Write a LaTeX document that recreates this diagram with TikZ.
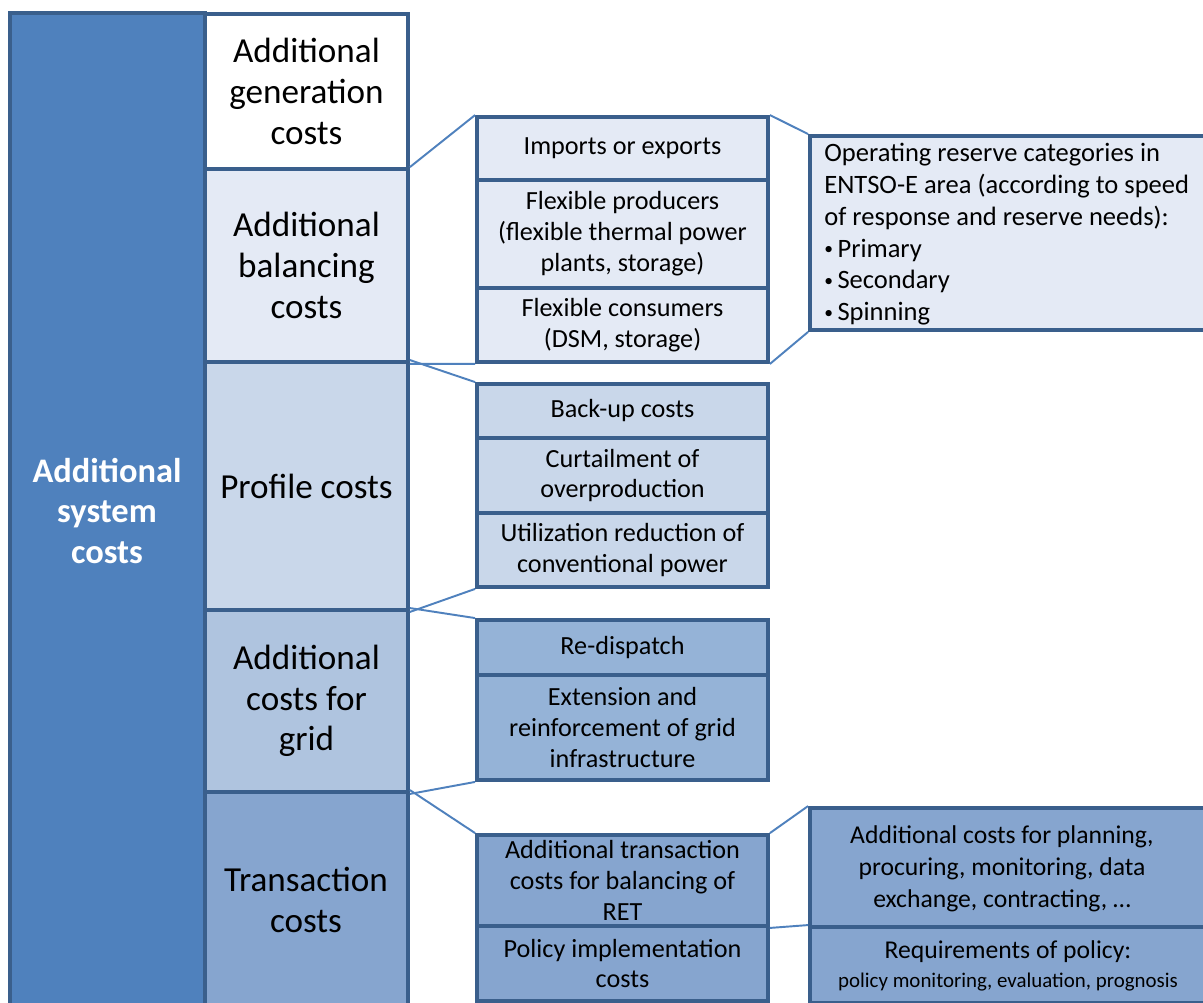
\documentclass[tikz,border=0pt]{standalone}
\usepackage{fontspec}
\setmainfont{Carlito}
\definecolor{bord}{HTML}{3A5F8C}
\definecolor{cmain}{HTML}{4F81BD}
\definecolor{cbal}{HTML}{E4EAF5}
\definecolor{cprof}{HTML}{C9D7EA}
\definecolor{cgrid}{HTML}{AFC4DF}
\definecolor{cgridc}{HTML}{95B3D7}
\definecolor{ctrans}{HTML}{86A5CF}
\tikzset{
  box/.style={draw=bord, line width=2.2pt, inner sep=0pt, align=center, text=black},
  big/.style={box, font=\fontsize{20}{23.2}\selectfont},
  mid/.style={box, font=\fontsize{14.9}{17.6}\selectfont},
  rgt/.style={box, font=\fontsize{14.6}{18.1}\selectfont},
  conn/.style={draw=cmain, line width=1.1pt},
}
\newcommand\bx[6][]{\node[#1, minimum width={(#4-#2)*0.02cm}, minimum height={(#5-#3)*0.02cm}] (#6) at ({(#2+#4)/2},{(#3+#5)/2})}
\begin{document}
\begin{tikzpicture}[x=0.02cm, y=-0.02cm]
\clip (0,0) rectangle (1203,1003);
\fill[white] (0,0) rectangle (1203,1003);
% left column
\bx[box, fill=cmain]{10}{13}{205}{1015}{sys} {};
\node[text=white, align=center, font=\fontsize{19.6}{23.2}\selectfont\bfseries] (systxt) at (107,511) {Additional\\system\\costs};
% second column
\bx[big, fill=white]{205}{14}{408}{169}{gen} {Additional\\generation\\costs};
\bx[big, fill=cbal]{205}{169}{408}{362}{bal} {Additional\\balancing\\costs};
\bx[big, fill=cprof]{205}{362}{408}{610}{prof} {Profile costs};
\bx[big, fill=cgrid]{205}{610}{408}{792}{grid} {Additional\\costs for\\grid};
\bx[big, fill=ctrans]{205}{792}{408}{1015}{trans} {};
\node[align=center, font=\fontsize{20}{23.2}\selectfont] (transtxt) at (306,900) {Transaction\\costs};
% third column
\bx[mid, fill=cbal]{477}{117}{768}{180}{imp} {Imports or exports};
\bx[mid, fill=cbal]{477}{180}{768}{288}{fprod} {Flexible producers\\(flexible thermal power\\plants, storage)};
\bx[mid, fill=cbal]{477}{288}{768}{362}{fcons} {Flexible consumers\\(DSM, storage)};
\bx[mid, fill=cprof]{477}{384}{768}{438}{backup} {Back-up costs};
\bx[mid, fill=cprof]{477}{438}{768}{513}{curt} {Curtailment of\\overproduction};
\bx[mid, fill=cprof]{477}{513}{768}{587}{util} {Utilization reduction of\\conventional power};
\bx[mid, fill=cgridc]{477}{620}{768}{675}{redis} {Re-dispatch};
\bx[mid, fill=cgridc]{477}{675}{768}{780}{ext} {Extension and\\reinforcement of grid\\infrastructure};
\bx[mid, fill=ctrans]{477}{835}{768}{926}{atc} {Additional transaction\\costs for balancing of\\RET};
\bx[mid, fill=ctrans]{477}{926}{768}{1001}{pic} {Policy implementation\\costs};
% fourth column
\bx[rgt, fill=cbal]{810}{136}{1215}{330}{ores} {};
\node[align=left, anchor=north west, inner sep=0pt, font=\fontsize{15.1}{18.1}\selectfont] (orestxt) at (824,143) {Operating reserve categories in\\ENTSO-E area (according to speed\\of response and reserve needs):\\{\fontsize{10}{10}\selectfont\raisebox{1.5pt}{•}}\,Primary\\{\fontsize{10}{10}\selectfont\raisebox{1.5pt}{•}}\,Secondary\\{\fontsize{10}{10}\selectfont\raisebox{1.5pt}{•}}\,Spinning};
\bx[rgt, fill=ctrans]{810}{808}{1215}{927}{plan} {};
\node[align=center, font=\fontsize{14.6}{18.1}\selectfont] (plantxt) at (1002,869) {Additional costs for planning,\\procuring, monitoring, data\\exchange, contracting, …};
\bx[rgt, fill=ctrans]{810}{927}{1215}{1003}{req} {};
\node[align=center, font=\fontsize{14.6}{18.1}\selectfont] (reqtxt) at (1008,966) {Requirements of policy:\\[-2pt]{\fontsize{11.9}{12}\selectfont policy monitoring, evaluation, prognosis}};
% connectors
\draw[conn] (bal.north east) -- (imp.north west);
\draw[conn] (bal.south east) -- (fcons.south west);
\draw[conn] (imp.north east) -- (ores.north west);
\draw[conn] (fcons.south east) -- (ores.south west);
\draw[conn] (prof.north east) -- (backup.north west);
\draw[conn] (prof.south east) -- (util.south west);
\draw[conn] (grid.north east) -- (redis.north west);
\draw[conn] (grid.south east) -- (ext.south west);
\draw[conn] (trans.north east) -- (atc.north west);
\draw[conn] (atc.north east) -- (plan.north west);
\draw[conn] (atc.south east) -- (req.north west);
\end{tikzpicture}
\end{document}
